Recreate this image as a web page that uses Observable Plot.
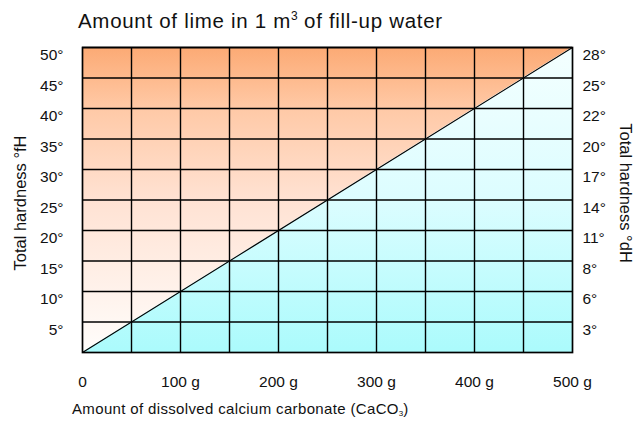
<!DOCTYPE html>
<html>
<head>
<meta charset="utf-8">
<script src="https://cdn.jsdelivr.net/npm/d3@7"></script>
<script src="https://cdn.jsdelivr.net/npm/@observablehq/plot@0.6"></script>
<style>
  html, body { margin: 0; padding: 0; background: #fff; }
  #wrap { position: relative; width: 638px; height: 423px; font-family: "Liberation Sans", Arial, sans-serif; color: #111; }
  #title { position: absolute; left: 78px; top: 9px; font-size: 20.5px; line-height: 24px; white-space: nowrap; letter-spacing: 0.7px; }
  #caption { position: absolute; left: 72px; top: 400px; font-size: 15px; line-height: 18px; white-space: nowrap; letter-spacing: 0.35px; }
  #chart { position: absolute; left: 0; top: 0; }
</style>
</head>
<body>
<div id="wrap">
  <div id="chart"></div>
  <div id="title">Amount of lime in 1 m<sup style="font-size:12px;vertical-align:8px;line-height:0;letter-spacing:0">3</sup> of fill-up water</div>
  <div id="caption">Amount of dissolved calcium carbonate (CaCO<sub style="font-size:8px;vertical-align:-2px;line-height:0;letter-spacing:0">3</sub>)</div>
</div>
<script>
// Data
const gramTicks = [0, 100, 200, 300, 400, 500];
const gramGrid = [50, 100, 150, 200, 250, 300, 350, 400, 450];
const fHTicks = [5, 10, 15, 20, 25, 30, 35, 40, 45, 50];
const dHLabels = [3, 6, 8, 11, 14, 17, 20, 22, 25, 28];
const lineGrams = [0, 500];
const lineFH = [0, 50];

const linePts = lineGrams.map((g, i) => ({g, h: lineFH[i]}));
const dHRows = fHTicks.map((h, i) => ({h, label: dHLabels[i]}));

const defs = () => {
  const svgNS = "http://www.w3.org/2000/svg";
  const d = document.createElementNS(svgNS, "defs");
  d.innerHTML = `
    <linearGradient id="gOrange" x1="0" y1="0" x2="0" y2="1">
      <stop offset="0" stop-color="#fcaa74"/>
      <stop offset="0.2" stop-color="#ffc9a6"/>
      <stop offset="0.5" stop-color="#ffe2d3"/>
      <stop offset="1" stop-color="#fffdfb"/>
    </linearGradient>
    <linearGradient id="gCyan" x1="0" y1="0" x2="0" y2="1">
      <stop offset="0" stop-color="#f4ffff"/>
      <stop offset="0.5" stop-color="#dcfdff"/>
      <stop offset="1" stop-color="#abfbfc"/>
    </linearGradient>`;
  return d;
};

const font = '"Liberation Sans", Arial, sans-serif';
const chart = Plot.plot({
  width: 638,
  height: 423,
  marginLeft: 82,
  marginRight: 66,
  marginTop: 47,
  marginBottom: 71,
  style: {fontFamily: font, fontSize: "15px", color: "#111", background: "transparent"},
  x: {domain: [0, 500], axis: null},
  y: {domain: [0, 50], axis: null},
  marks: [
    defs,
    Plot.areaY(linePts, {x: "g", y1: "h", y2: 50, fill: "url(#gOrange)"}),
    Plot.areaY(linePts, {x: "g", y1: 0, y2: "h", fill: "url(#gCyan)"}),
    Plot.ruleX(gramGrid, {stroke: "#000", strokeWidth: 1.4}),
    Plot.ruleY(fHTicks, {stroke: "#000", strokeWidth: 1.4}),
    Plot.line(linePts, {x: "g", y: "h", stroke: "#000", strokeWidth: 1.1}),
    Plot.frame({stroke: "#000", strokeWidth: 1.7}),
    Plot.text(gramTicks, {x: d => d, y: 0, text: d => d === 0 ? "0" : `${d} g`, dy: 30, fontSize: 15.5, fill: "#111", letterSpacing: 0.4}),
    Plot.text(fHTicks, {x: 0, y: d => d, text: d => `${d}°`, textAnchor: "end", dx: -19, dy: 8, fontSize: 15.5, fill: "#111", letterSpacing: 0.3}),
    Plot.text(dHRows, {x: 500, y: "h", text: d => `${d.label}°`, textAnchor: "start", dx: 10, dy: 8, fontSize: 15.5, fill: "#111", letterSpacing: 0.3}),
    Plot.text(["Total hardness °fH"], {frameAnchor: "middle", textAnchor: "middle", text: d => d, rotate: -90, dx: -307, dy: 3, fontSize: 16.5, fill: "#111", letterSpacing: 0.8}),
    Plot.text(["Total hardness °dH"], {frameAnchor: "middle", textAnchor: "middle", text: d => d, rotate: 90, dx: 298, dy: -7, fontSize: 16.5, fill: "#111", letterSpacing: 0.8})
  ]
});
document.getElementById("chart").appendChild(chart);
</script>
</body>
</html>
